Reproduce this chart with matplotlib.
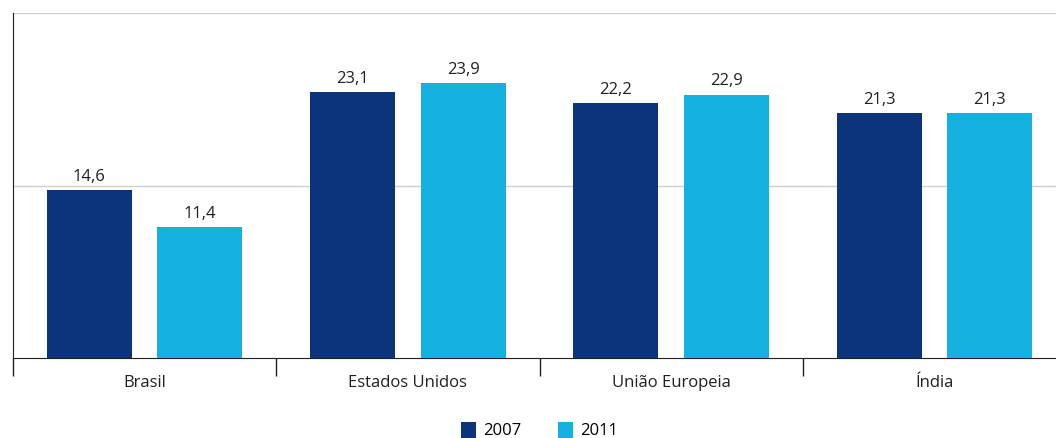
import numpy as np
import matplotlib.pyplot as plt

plt.rcParams['font.family'] = ['Open Sans', 'DejaVu Sans']

categories = ["Brasil", "Estados Unidos", "União Europeia", "Índia"]
years = ["2007", "2011"]
vals_2007 = [14.6, 23.1, 22.2, 21.3]
vals_2011 = [11.4, 23.9, 22.9, 21.3]

c_dark = '#0B347A'
c_light = '#14B0DF'

fig = plt.figure(figsize=(10.56, 4.38), dpi=100)
ax = fig.add_axes([13 / 1056, 1 - 358 / 438, 1053 / 1056, 345 / 438])

x = np.arange(len(categories)) + 0.5
bar_w = 0.323
off = 0.21
b1 = ax.bar(x - off, vals_2007, bar_w, color=c_dark, label=years[0], zorder=3)
b2 = ax.bar(x + off, vals_2011, bar_w, color=c_light, label=years[1], zorder=3)

for bars, vals in [(b1, vals_2007), (b2, vals_2011)]:
    for b, v in zip(bars, vals):
        ax.text(b.get_x() + b.get_width() / 2, v + 0.45, f"{v:.1f}".replace('.', ','),
                ha='center', va='bottom', fontsize=12, color='#231f20')

ax.set_xlim(0, len(categories))
ax.set_ylim(0, 30)
ax.set_yticks([15, 30])
ax.set_yticklabels([])
ax.tick_params(axis='y', length=0)
ax.yaxis.grid(True, color='#cfcfcf', linewidth=1)
ax.set_axisbelow(True)

ax.set_xticks(x)
ax.set_xticklabels(categories, fontsize=12, color='#231f20')
ax.tick_params(axis='x', which='major', length=0, pad=12)
ax.set_xticks(np.arange(len(categories) + 1), minor=True)
ax.tick_params(axis='x', which='minor', length=13, width=1, color='#231f20')

for s in ['top', 'right']:
    ax.spines[s].set_visible(False)
ax.spines['left'].set_color('#231f20')
ax.spines['bottom'].set_color('#231f20')

ax.legend(loc='center', bbox_to_anchor=(0.5, -0.21), ncol=2, frameon=False,
          fontsize=12, handlelength=0.9, handleheight=1.1, handletextpad=0.4,
          columnspacing=2.2, borderpad=0)

fig.savefig('out.png', dpi=100, facecolor='white')
